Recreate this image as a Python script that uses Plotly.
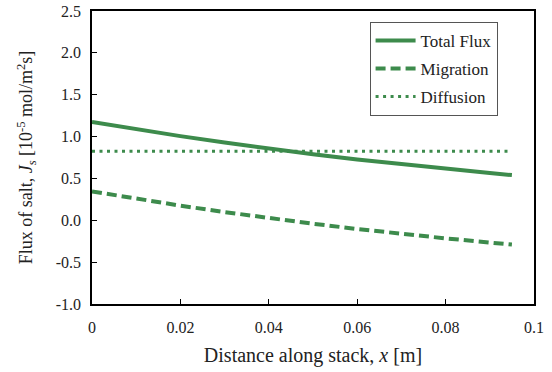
import plotly.graph_objects as go

x_m = [0, 0.01, 0.02, 0.03, 0.04, 0.05, 0.06, 0.07, 0.08, 0.09, 0.095]
total_flux = [1.175, 1.088, 1.005, 0.928, 0.856, 0.789, 0.726, 0.668, 0.614, 0.564, 0.540]
migration = [0.345, 0.258, 0.175, 0.098, 0.026, -0.041, -0.104, -0.162, -0.216, -0.266, -0.290]
diffusion = [0.825] * len(x_m)

y_tick_vals = [-1.0, -0.5, 0.0, 0.5, 1.0, 1.5, 2.0, 2.5]
y_tick_text = ["-1.0", "-0.5", "0.0", "0.5", "1.0", "1.5", "2.0", "2.5"]
x_tick_vals = [0, 0.02, 0.04, 0.06, 0.08, 0.1]
x_tick_text = ["0", "0.02", "0.04", "0.06", "0.08", "0.1"]

green = "#3d8b4c"
font = "Liberation Serif"

fig = go.Figure()
fig.add_trace(go.Scatter(x=x_m, y=total_flux, mode="lines", name="Total Flux",
                         legendgroup="a", line=dict(color=green, width=4)))
fig.add_trace(go.Scatter(x=x_m, y=migration, mode="lines", name="Migration",
                         legendgroup="b", line=dict(color=green, width=4, dash="10px,5px")))
fig.add_trace(go.Scatter(x=x_m, y=diffusion, mode="lines", name="Diffusion",
                         legendgroup="c", line=dict(color=green, width=3, dash="3px,4.5px")))

axis_common = dict(showline=True, linecolor="black", linewidth=1.5, mirror=True,
                   ticks="inside", ticklen=5, tickcolor="black", showgrid=False,
                   zeroline=False, automargin=False,
                   tickfont=dict(family=font, size=16, color="#222"))

fig.update_layout(
    width=552, height=372,
    margin=dict(l=92, r=18, t=11, b=68),
    paper_bgcolor="white", plot_bgcolor="white",
    font=dict(family=font, color="#222"),
    xaxis=dict(range=[0, 0.1], tickvals=x_tick_vals, ticktext=x_tick_text,
               title=dict(text="Distance along stack, <i>x</i> [m]", font=dict(family=font, size=20), standoff=13),
               ticklabelstandoff=8, **axis_common),
    yaxis=dict(range=[-1, 2.5], tickvals=y_tick_vals, ticktext=y_tick_text,
               title=dict(text="Flux of salt, <i>J<sub>s</sub></i> [10<sup>-5</sup> mol/m<sup>2</sup>s]",
                          font=dict(family=font, size=18), standoff=18),
               ticklabelstandoff=6, **axis_common),
    legend=dict(x=0.628, y=0.963, xanchor="left", yanchor="top",
                bordercolor="#555", borderwidth=1, bgcolor="white",
                font=dict(family=font, size=17, color="#222"),
                tracegroupgap=3, itemwidth=40),
    showlegend=True,
)

fig.write_html("out.html", config={"displayModeBar": False},
               post_script="document.body.style.margin='0';document.body.style.overflow='hidden';")
